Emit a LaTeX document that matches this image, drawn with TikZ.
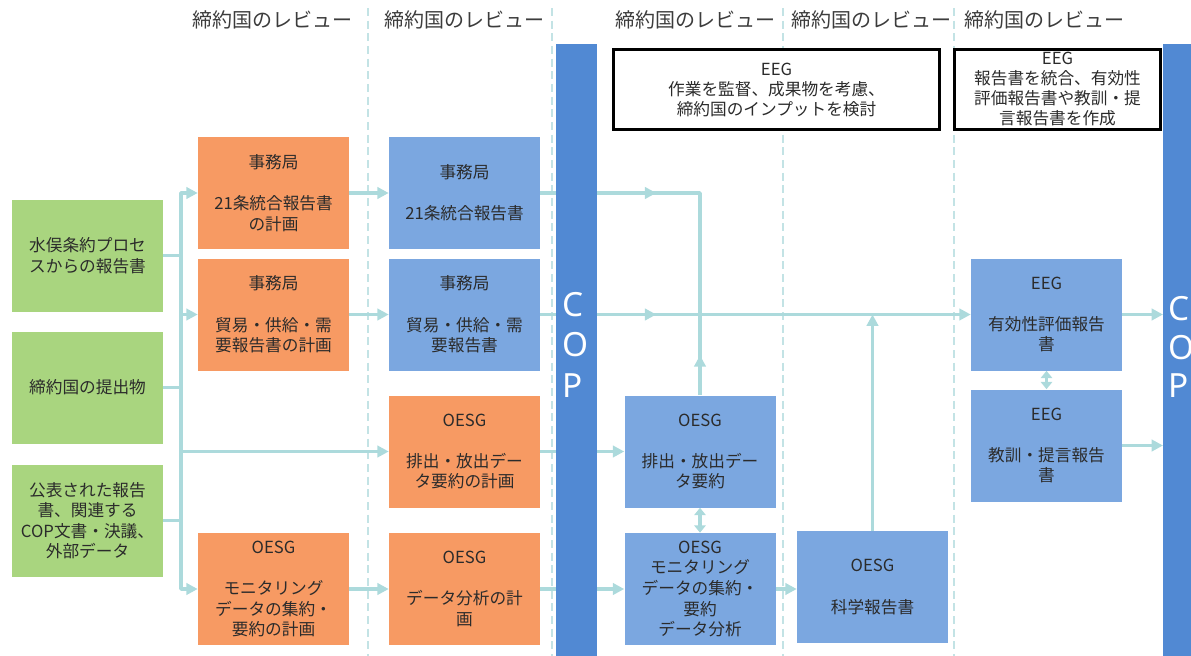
\documentclass[tikz,border=0pt]{standalone}
\usepackage{fontspec}
\setmainfont{Noto Sans CJK JP}
\newfontfamily\copfont{Noto Sans}
\usetikzlibrary{arrows.meta,decorations.markings}
\definecolor{greenc}{HTML}{A9D57F}
\definecolor{orangec}{HTML}{F79A63}
\definecolor{bluec}{HTML}{7BA7E0}
\definecolor{copc}{HTML}{5189D3}
\definecolor{linec}{HTML}{ACDADC}
\definecolor{sepc}{HTML}{C3E3E5}
\definecolor{txtc}{HTML}{2B2B2B}
\definecolor{hdrc}{HTML}{3C3C3C}
\pgfdeclarelayer{bg}
\pgfsetlayers{bg,main}
\begin{document}
\begin{tikzpicture}[x=0.75pt,y=-0.75pt,
  >={Triangle[length=8.5pt,width=8.5pt]},
  hdr/.style={font=\fontsize{15}{18}\selectfont, text=hdrc, inner sep=0pt},
  box/.style={rectangle, inner sep=0pt, minimum width=113.25pt, minimum height=84pt,
    align=center, text=txtc, font=\fontsize{12.5}{15.4}\selectfont},
  gbox/.style={box, fill=greenc},
  obox/.style={box, fill=orangec},
  bbox/.style={box, fill=bluec},
  eegbox/.style={rectangle, draw=black, line width=2.2pt, fill=white, inner sep=0pt,
    minimum height=60pt, align=center, text=txtc, font=\fontsize{12.5}{15}\selectfont},
  copbar/.style={rectangle, fill=copc, inner sep=0pt, minimum height=459pt, anchor=north west},
  coptxt/.style={text=white, font=\copfont\fontsize{25}{30}\selectfont, inner sep=0pt, anchor=base west},
  sep/.style={draw=sepc, line width=1pt, dash pattern=on 6pt off 3.5pt},
  conn/.style={draw=linec, line width=2.6pt, line join=round},
  smalltips/.style={<->, >={Triangle[length=5.5pt,width=8.5pt]}},
  midarrow/.style={postaction={decorate, decoration={markings,
      mark=at position #1 with {\arrow{Triangle[length=8.5pt,width=8.5pt]}}}}}
]
\useasboundingbox (0,0) rectangle (1191,656);

% headers
\node[hdr] (h1) at (272,20) {締約国のレビュー};
\node[hdr] (h2) at (464,20) {締約国のレビュー};
\node[hdr] (h3) at (695,20) {締約国のレビュー};
\node[hdr] (h4) at (871,20) {締約国のレビュー};
\node[hdr] (h5) at (1044,20) {締約国のレビュー};

% separators
\begin{pgfonlayer}{bg}
\foreach \x in {368,552,783,954} \draw[sep] (\x,8) -- (\x,656);
\end{pgfonlayer}

% COP bars
\node[copbar, minimum width=30.75pt] (cop1) at (556,44) {};
\node[copbar, minimum width=30pt] (cop2) at (1163,44) {};
\node[coptxt] (c1c) at (562,316) {C};
\node[coptxt] (c1o) at (562,356) {O};
\node[coptxt] (c1p) at (562,397) {P};
\node[coptxt] (c2c) at (1168,320) {C};
\node[coptxt] (c2o) at (1168,359) {O};
\node[coptxt] (c2p) at (1168,397) {P};

% EEG boxes
\node[eegbox, minimum width=244.5pt] (eeg1) at (776.5,89.5)
  {EEG\\作業を監督、成果物を考慮、\\締約国のインプットを検討};
\node[eegbox, minimum width=154.5pt] (eeg2) at (1057.5,89.5)
  {EEG\\報告書を統合、有効性\\評価報告書や教訓・提\\言報告書を作成};

% green boxes
\node[gbox] (g1) at (87.5,255.5) {水俣条約プロセ\\スからの報告書};
\node[gbox] (g2) at (87.5,387.5) {締約国の提出物};
\node[gbox] (g3) at (87.5,520.5) {公表された報告\\書、関連する\\COP文書・決議、\\外部データ};

% column 1
\node[obox] (o1) at (273.5,193) {事務局\\[15.4pt]21条統合報告書\\の計画};
\node[obox] (o2) at (273.5,314.5) {事務局\\[15.4pt]貿易・供給・需\\要報告書の計画};
\node[obox] (o3) at (273.5,589) {OESG\\[15.4pt]モニタリング\\データの集約・\\要約の計画};

% column 2
\node[bbox] (b1) at (464.5,193) {事務局\\[15.4pt]21条統合報告書};
\node[bbox] (b2) at (464.5,314.5) {事務局\\[15.4pt]貿易・供給・需\\要報告書};
\node[obox] (o4) at (464.5,451.5) {OESG\\[15.4pt]排出・放出デー\\タ要約の計画};
\node[obox] (o5) at (464.5,589) {OESG\\[15.4pt]データ分析の計\\画};

% column 3
\node[bbox] (b3) at (700,451.5) {OESG\\[15.4pt]排出・放出デー\\タ要約};
\node[bbox] (b4) at (700,589) {OESG\\モニタリング\\データの集約・\\要約\\データ分析};

% column 4
\node[bbox] (b5) at (872.5,587) {OESG\\[15.4pt]科学報告書};

% column 5
\node[bbox] (b6) at (1046.5,314.5) {EEG\\[15.4pt]有効性評価報告\\書};
\node[bbox] (b7) at (1046.5,445.5) {EEG\\[15.4pt]教訓・提言報告\\書};

% connectors
\coordinate (tt) at (181,193);
\coordinate (tb) at (181,589);
\begin{pgfonlayer}{bg}
\draw[conn] (g1.east) -- (g1.east -| tt);
\draw[conn] (g2.east) -- (g2.east -| tt);
\draw[conn] (g3.east) -- (g3.east -| tt);
\draw[conn,->] (tb) -- (tt) -- (o1.west);
\draw[conn,->] (tt) -- (tb) -- (o3.west);
\draw[conn,->] (o2.west -| tt) -- (o2.west);
\draw[conn,->] (o4.west -| tt) -- (o4.west);

\draw[conn,->] (o1.east) -- (b1.west);
\draw[conn,->] (o2.east) -- (b2.west);
\draw[conn,->] (o3.east) -- (o5.west);
\draw[conn,->] (o4.east) -- (b3.west);
\draw[conn,->] (o5.east) -- (b4.west);

\draw[conn, midarrow=87pt] (b1.east) -- (b1.east -| b3.north) -- (b2.east -| b3.north);
\draw[conn, midarrow=87pt, ->] (b2.east) -- (b6.west);
\draw[conn, midarrow=30pt] (b3.north) -- (b3.north |- b2.east);
\draw[conn,smalltips] (b3.south) -- (b4.north);
\draw[conn,->] (b4.east) -- (b4.east -| b5.west);
\draw[conn,->] (b5.north) -- (b5.north |- b6.west);
\draw[conn,smalltips] (b6.south) -- (b7.north);
\draw[conn,->] (b6.east) -- (b6.east -| cop2.west);
\draw[conn,->] (b7.east) -- (b7.east -| cop2.west);
\end{pgfonlayer}
\end{tikzpicture}
\end{document}
